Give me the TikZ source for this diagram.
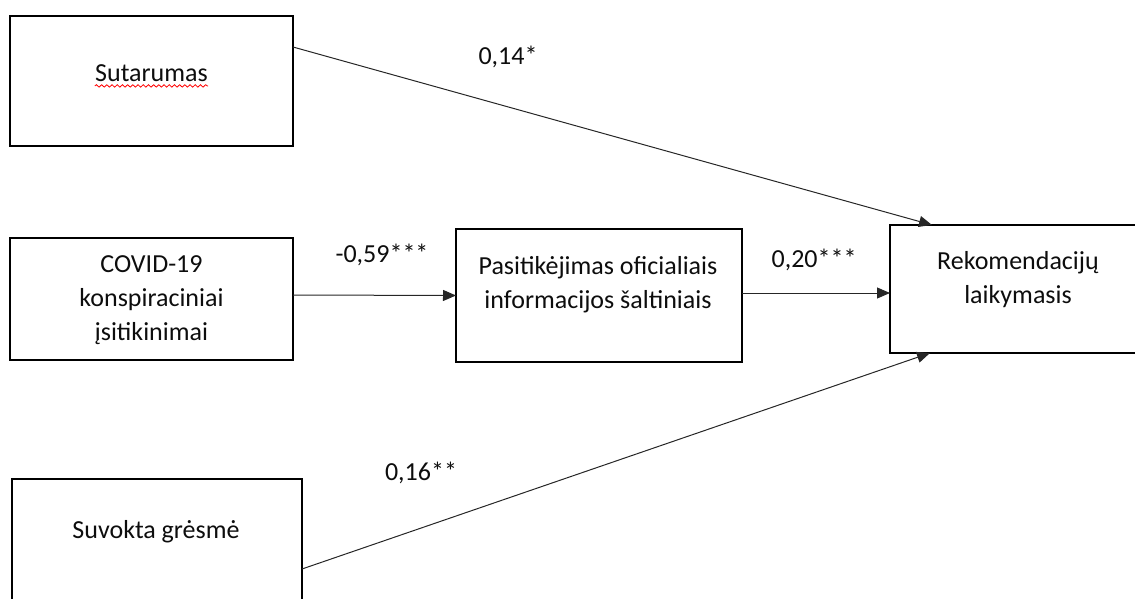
\documentclass[tikz,border=0pt]{standalone}
\usepackage{fontspec}
\setmainfont{Carlito}
\usetikzlibrary{arrows.meta,decorations.pathmorphing}
\tikzset{
  box/.style={draw=black, line width=1pt, rectangle, inner sep=0pt, outer sep=0pt},
  txt/.style={font=\fontsize{13pt}{17pt}\selectfont, text=black!95, align=center, inner sep=0pt},
  conn/.style={draw=black!85, line width=0.5pt, -{Triangle[length=6.5pt,width=5.5pt]}},
  coef/.style={font=\fontsize{13pt}{17pt}\selectfont, text=black!95, inner sep=0pt}
}
\begin{document}
\begin{tikzpicture}[x=0.5pt,y=-0.5pt]
\useasboundingbox (0,0) rectangle (1135,599);
\clip (0,0) rectangle (1135,599);
% boxes
\node[box, minimum width=141.5pt, minimum height=65pt] (s) at (151.5,81) {};
\node[box, minimum width=141.5pt, minimum height=61pt] (c) at (151.5,299) {};
\node[box, minimum width=145pt, minimum height=80.5pt] (g) at (157,559.5) {};
\node[box, minimum width=143pt, minimum height=66.5pt] (p) at (599,295.5) {};
\node[box, minimum width=130pt, minimum height=64pt] (r) at (1020,289) {};
% texts
\node[txt] (st) at (151.5,73) {Sutarumas};
\draw[red, line width=0.4pt, decorate, decoration={snake, amplitude=0.6pt, segment length=2.6pt}] (st.south west) ++(0,-2pt) coordinate (sq1) -- (st.south east |- sq1);
\node[txt] (ct) at (151.5,300) {COVID-19\\konspiraciniai\\įsitikinimai};
\node[txt] (gt) at (156,532) {Suvokta grėsmė};
\node[txt] (pt) at (598,285) {Pasitikėjimas oficialiais\\informacijos šaltiniais};
\node[txt] (rt) at (1018,280) {Rekomendacijų\\laikymasis};
% connectors
\draw[conn] ([yshift=17pt]s.east) -- ([xshift=21pt]r.north west);
\draw[conn] ([yshift=2pt]c.east) -- (p.west);
\draw[conn] ([yshift=1.25pt]p.east) -- ([yshift=1.25pt]p.east -| r.west);
\draw[conn] ([yshift=-4.75pt]g.east) -- ([xshift=20pt]r.south west);
% coefficients
\node[coef] (l1) at (508,57) {0,14*};
\node[coef] (l2) at (382,255) {-0,59***};
\node[coef] (l3) at (814,260) {0,20***};
\node[coef] (l4) at (421,473) {0,16**};
\end{tikzpicture}
\end{document}
